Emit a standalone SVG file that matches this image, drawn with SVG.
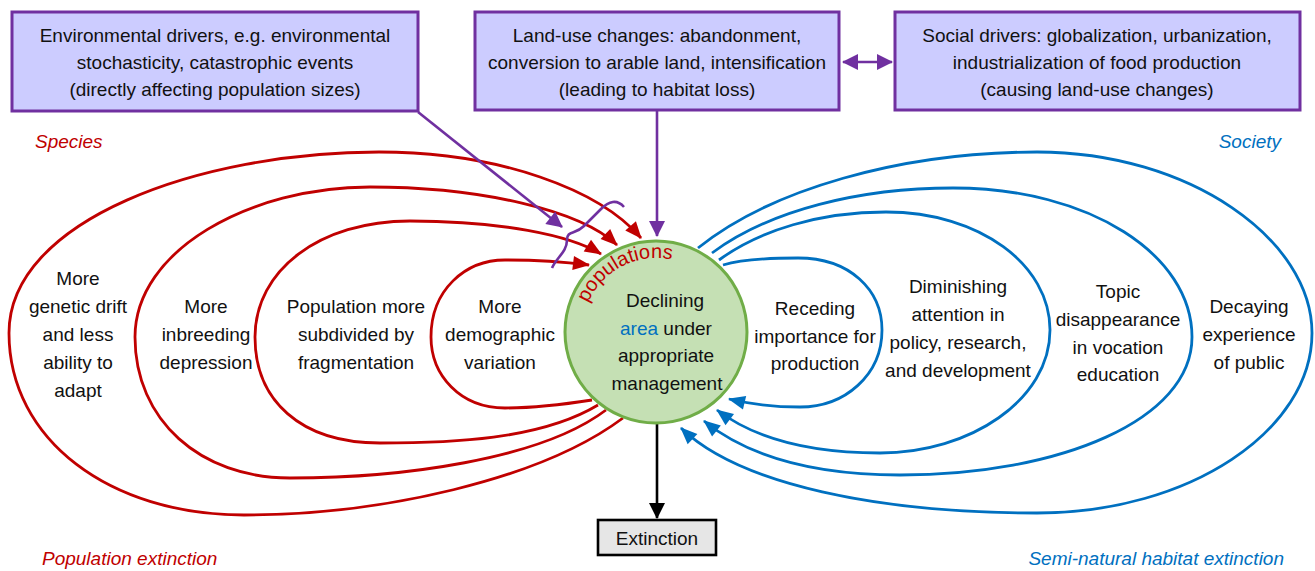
<svg xmlns="http://www.w3.org/2000/svg" width="1315" height="571" viewBox="0 0 1315 571">
<style>
text{font-family:"Liberation Sans",Arial,sans-serif;font-size:19px;fill:#111}
.c{text-anchor:middle}
.box{fill:#CCCCFF;stroke:#7030A0;stroke-width:3}
.red{fill:none;stroke:#C00000;stroke-width:2.8}
.blue{fill:none;stroke:#0070C0;stroke-width:2.8}
.pur{fill:none;stroke:#7030A0;stroke-width:2.6}
.blk{fill:none;stroke:#000;stroke-width:2.6}
.lr{fill:#C00000;font-style:italic}
.lb{fill:#0070C0;font-style:italic}
</style>
<defs>
<marker id="aR" markerUnits="userSpaceOnUse" markerWidth="18" markerHeight="16" refX="16" refY="7" orient="auto" overflow="visible"><path d="M0,0 L17,7 L0,14 z" fill="#C00000"/></marker>
<marker id="aB" markerUnits="userSpaceOnUse" markerWidth="18" markerHeight="16" refX="16" refY="7" orient="auto" overflow="visible"><path d="M0,0 L17,7 L0,14 z" fill="#0070C0"/></marker>
<marker id="aP" markerUnits="userSpaceOnUse" markerWidth="18" markerHeight="18" refX="15" refY="8" orient="auto" overflow="visible"><path d="M0,0 L16,8 L0,16 z" fill="#7030A0"/></marker>
<marker id="aPs" markerUnits="userSpaceOnUse" markerWidth="18" markerHeight="18" refX="1" refY="8" orient="auto" overflow="visible"><path d="M16,0 L0,8 L16,16 z" fill="#7030A0"/></marker>
<marker id="aK" markerUnits="userSpaceOnUse" markerWidth="18" markerHeight="18" refX="15" refY="8" orient="auto" overflow="visible"><path d="M0,0 L16,8 L0,16 z" fill="#000"/></marker>
<path id="popArc" d="M587.9,303.1 A74,74 0 0 1 681.3,262.5"/>
</defs>

<g id="connectors">
<!-- red loops (left) -->
<path class="red" marker-end="url(#aR)" d="M623,418 C540,480 380,515 244,515 C110,515 9,440 9,333 C9,220 200,152 379,152 C500,152 600,190 641,238"/>
<path class="red" marker-end="url(#aR)" d="M606,410 C540,460 400,478 290,478 C200,478 135,420 135,337 C135,250 250,187 370,187 C480,187 580,210 617,245"/>
<path class="red" marker-end="url(#aR)" d="M598,405 C540,440 450,443 380,443 C300,443 255,400 255,337 C255,270 320,221 410,221 C500,221 570,235 601,254"/>
<path class="red" marker-end="url(#aR)" d="M592,400 C560,405 530,408 505,408 C460,408 431,375 431,337 C431,290 465,260 505,260 C540,260 565,262 589,265"/>
<!-- blue loops (right) -->
<path class="blue" marker-end="url(#aB)" d="M723,265 C740,260 770,258 798,258 C850,258 882,290 882,330 C882,375 845,407 800,407 C770,407 750,404 729,399"/>
<path class="blue" marker-end="url(#aB)" d="M719,260 C760,230 820,212 886,212 C980,212 1050,265 1050,330 C1050,400 970,453 880,453 C800,453 750,435 717,410"/>
<path class="blue" marker-end="url(#aB)" d="M712,253 C770,210 860,188 953,188 C1090,188 1192,255 1192,337 C1192,420 1060,475 900,475 C800,475 740,450 704,421"/>
<path class="blue" marker-end="url(#aB)" d="M698,248 C770,190 900,152 1037,152 C1190,152 1312,240 1312,333 C1312,430 1190,513 1037,513 C880,513 740,485 681,428"/>
<!-- purple drivers -->
<path class="pur" marker-end="url(#aP)" d="M418,112 L562,227"/>
<path class="pur" marker-end="url(#aP)" d="M657,110 L657,236"/>
<path class="pur" marker-start="url(#aPs)" marker-end="url(#aP)" d="M843,62 L892,62"/>
<path class="pur" d="M624,207 C617,199 609,201 601,209 L584,226 C575,235 567,230 567,240 C567,252 556,258 552,268"/>
<!-- to extinction -->
<path class="blk" marker-end="url(#aK)" d="M657,424 L657,518"/>
</g>

<g id="env-drivers">
<rect class="box" x="12" y="12" width="406" height="99"/>
<text class="c" x="215" y="42">Environmental drivers, e.g. environmental</text>
<text class="c" x="215" y="69">stochasticity, catastrophic events</text>
<text class="c" x="215" y="96">(directly affecting population sizes)</text>
</g>
<g id="land-use">
<rect class="box" x="475" y="12" width="364" height="98"/>
<text class="c" x="657" y="42">Land-use changes: abandonment,</text>
<text class="c" x="657" y="69">conversion to arable land, intensification</text>
<text class="c" x="657" y="96">(leading to habitat loss)</text>
</g>
<g id="social-drivers">
<rect class="box" x="895" y="12" width="405" height="98"/>
<text class="c" x="1097" y="42">Social drivers: globalization, urbanization,</text>
<text class="c" x="1097" y="69">industrialization of food production</text>
<text class="c" x="1097" y="96">(causing land-use changes)</text>
</g>

<g id="labels">
<text class="lr" x="35" y="148">Species</text>
<text class="lb" x="1281" y="148" text-anchor="end">Society</text>
<text class="lr" x="42" y="565">Population extinction</text>
<text class="lb" x="1284" y="565" text-anchor="end">Semi-natural habitat extinction</text>
</g>

<g id="genetic-drift">
<text class="c" x="78" y="285">More</text>
<text class="c" x="78" y="313">genetic drift</text>
<text class="c" x="78" y="341">and less</text>
<text class="c" x="78" y="369">ability to</text>
<text class="c" x="78" y="397">adapt</text>
</g>
<g id="inbreeding">
<text class="c" x="206" y="313">More</text>
<text class="c" x="206" y="341">inbreeding</text>
<text class="c" x="206" y="369">depression</text>
</g>
<g id="fragmentation">
<text class="c" x="356" y="313">Population more</text>
<text class="c" x="356" y="341">subdivided by</text>
<text class="c" x="356" y="369">fragmentation</text>
</g>
<g id="demographic">
<text class="c" x="500" y="313">More</text>
<text class="c" x="500" y="341">demographic</text>
<text class="c" x="500" y="369">variation</text>
</g>

<g id="center">
<circle cx="656" cy="332" r="91" fill="#C5E0B4" stroke="#70AD47" stroke-width="3"/>
<text style="fill:#C00000;font-size:20px"><textPath href="#popArc">populations</textPath></text>
<text class="c" x="665" y="307">Declining</text>
<text class="c" x="666" y="335"><tspan style="fill:#0070C0">area</tspan> under</text>
<text class="c" x="666" y="362">appropriate</text>
<text class="c" x="667" y="390">management</text>
</g>

<g id="receding">
<text class="c" x="815" y="315">Receding</text>
<text class="c" x="815" y="343">importance for</text>
<text class="c" x="815" y="370">production</text>
</g>
<g id="diminishing">
<text class="c" x="958" y="293">Diminishing</text>
<text class="c" x="958" y="321">attention in</text>
<text class="c" x="958" y="349">policy, research,</text>
<text class="c" x="958" y="377">and development</text>
</g>
<g id="topic">
<text class="c" x="1118" y="298">Topic</text>
<text class="c" x="1118" y="326">disappearance</text>
<text class="c" x="1118" y="354">in vocation</text>
<text class="c" x="1118" y="381">education</text>
</g>
<g id="decaying">
<text class="c" x="1249" y="313">Decaying</text>
<text class="c" x="1249" y="341">experience</text>
<text class="c" x="1249" y="369">of public</text>
</g>

<g id="extinction">
<rect x="598" y="520" width="118" height="35" fill="#E6E6E6" stroke="#000" stroke-width="2.6"/>
<text class="c" x="657" y="545">Extinction</text>
</g>
</svg>
